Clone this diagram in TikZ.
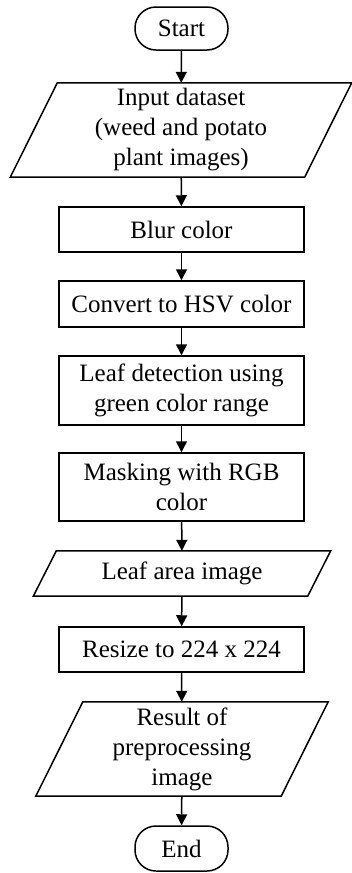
\documentclass[tikz,border=0pt]{standalone}
\usepackage{fontspec}
\setmainfont{Liberation Serif}
\usetikzlibrary{arrows.meta}
\begin{document}
\begin{tikzpicture}[x=1pt,y=1pt,
  lbl/.style={font=\fontsize{25}{30}\selectfont, align=center, inner sep=0pt},
  procbox/.style={lbl, draw, line width=1.5pt, minimum width=245pt},
  termbox/.style={lbl, draw, line width=1.5pt, minimum width=93pt, rounded corners=21pt},
  iobox/.style={lbl},
  shape line/.style={draw, line width=1.5pt, line join=miter},
  flow/.style={line width=1.5pt, -{Triangle[length=11pt,width=11pt]}}
]
\useasboundingbox (0,0) rectangle (352,-873);

\node[termbox, minimum height=43pt] (start) at (181.5,-28.5) {Start};
\node[iobox, minimum width=294pt, minimum height=94pt] (input) at (181,-130) {Input dataset\\(weed and potato\\plant images)};
\node[procbox, minimum height=45pt] (blur) at (181.5,-229.5) {Blur color};
\node[procbox, minimum height=46pt] (hsv) at (181.5,-304) {Convert to HSV color};
\node[procbox, minimum height=69pt] (leaf) at (181.5,-390.5) {Leaf detection using\\green color range};
\node[procbox, minimum height=68pt] (mask) at (181.5,-487) {Masking with RGB\\color};
\node[iobox, minimum width=274pt, minimum height=45pt] (area) at (182,-573.5) {Leaf area image};
\node[procbox, minimum height=45pt] (resize) at (181.5,-649.5) {Resize to 224 x 224};
\node[iobox, minimum width=245pt, minimum height=94pt] (result) at (182,-749) {Result of\\preprocessing\\image};
\node[termbox, minimum height=45pt] (end) at (181.5,-848.5) {End};

\draw[shape line] ([xshift=23.5pt]input.north west) -- ([xshift=23.5pt]input.north east) -- ([xshift=-23.5pt]input.south east) -- ([xshift=-23.5pt]input.south west) -- cycle;
\draw[shape line] ([xshift=11.5pt]area.north west) -- ([xshift=11.5pt]area.north east) -- ([xshift=-11.5pt]area.south east) -- ([xshift=-11.5pt]area.south west) -- cycle;
\draw[shape line] ([xshift=23.5pt]result.north west) -- ([xshift=23.5pt]result.north east) -- ([xshift=-23.5pt]result.south east) -- ([xshift=-23.5pt]result.south west) -- cycle;

\draw[flow] (start) -- (input);
\draw[flow] (input) -- (blur);
\draw[flow] (blur) -- (hsv);
\draw[flow] (hsv) -- (leaf);
\draw[flow] (leaf) -- (mask);
\draw[flow] (mask) -- (area);
\draw[flow] (area) -- (resize);
\draw[flow] (resize) -- (result);
\draw[flow] (result) -- (end);
\end{tikzpicture}
\end{document}
